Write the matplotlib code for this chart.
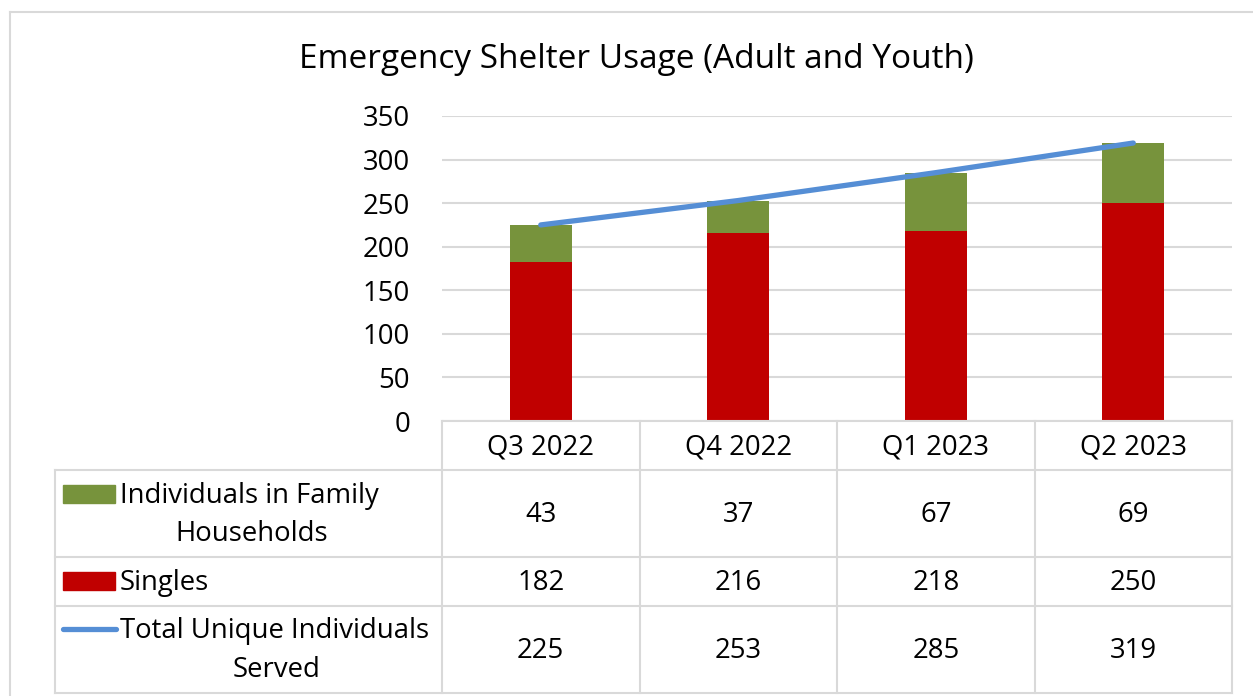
import matplotlib
matplotlib.use("Agg")
import matplotlib.pyplot as plt
import matplotlib.transforms as mtransforms
from matplotlib.lines import Line2D
from matplotlib.patches import Rectangle

categories = ["Q3 2022", "Q4 2022", "Q1 2023", "Q2 2023"]
family = [43, 37, 67, 69]
singles = [182, 216, 218, 250]
total = [225, 253, 285, 319]
yticks = [0, 50, 100, 150, 200, 250, 300, 350]
title = "Emergency Shelter Usage (Adult and Youth)"

GREEN = "#77933C"
RED = "#C00000"
BLUE = "#558ED5"
GRID = "#D9D9D9"
FONT = "Open Sans"
FS = 19.8

W, H = 1253, 696
fig = plt.figure(figsize=(W / 100, H / 100), dpi=100)
plt.rcParams["font.family"] = [FONT, "DejaVu Sans"]


def fx(px):
    return px / W


def fy(py):
    return 1 - py / H


L, R, T, B = 442, 1232, 116, 421
ax = fig.add_axes([fx(L), fy(B), fx(R) - fx(L), fy(T) - fy(B)])
x = list(range(len(categories)))
bw = 0.314
ax.bar(x, singles, bw, color=RED, zorder=2)
ax.bar(x, family, bw, bottom=singles, color=GREEN, zorder=2)
ax.plot(x, total, color=BLUE, lw=3.8, solid_capstyle="round", zorder=3)
ax.set_xlim(-0.5, len(categories) - 0.5)
ax.set_ylim(0, 350)
ax.set_yticks(yticks)
ax.yaxis.grid(True, color=GRID, lw=1.5, zorder=0)
ax.set_axisbelow(True)
for s in ax.spines.values():
    s.set_visible(False)
ax.tick_params(axis="y", length=0, pad=23, labelsize=FS)
ax.set_xticks([])
for lab in ax.get_yticklabels():
    lab.set_fontfamily(FONT)

# Title
fig.text(fx(636), fy(60), title, ha="center", va="center", fontsize=24, family=FONT)

# Outer frame
fig.add_artist(Line2D([fx(10), fx(W + 5)], [fy(12), fy(12)], color=GRID, lw=1.5))
fig.add_artist(Line2D([fx(10), fx(10)], [fy(12), fy(H + 5)], color=GRID, lw=1.5))

# Data table
trans = mtransforms.blended_transform_factory(ax.transData, fig.transFigure)
rows_y = [421, 470, 557, 606, 693]
TL = 55
for i, yy in enumerate(rows_y):
    x0 = L if i == 0 else TL
    fig.add_artist(Line2D([fx(x0), fx(R)], [fy(yy), fy(yy)], color=GRID, lw=1.5))
fig.add_artist(Line2D([fx(TL), fx(TL)], [fy(470), fy(693)], color=GRID, lw=1.5))
for b in [i - 0.5 for i in range(len(categories) + 1)]:
    fig.add_artist(Line2D([b, b], [fy(421), fy(693)], color=GRID, lw=1.5,
                          transform=trans))

D = 2
hdr_y = (421 + 470) / 2 + D
r1 = (470 + 557) / 2 + D
r2 = (557 + 606) / 2 + D
r3 = (606 + 693) / 2 + D
for i, c in enumerate(categories):
    fig.text(i, fy(hdr_y), c, transform=trans, ha="center", va="center",
             fontsize=FS, family=FONT)
    fig.text(i, fy(r1), str(family[i]), transform=trans, ha="center", va="center",
             fontsize=FS, family=FONT)
    fig.text(i, fy(r2), str(singles[i]), transform=trans, ha="center", va="center",
             fontsize=FS, family=FONT)
    fig.text(i, fy(r3), str(total[i]), transform=trans, ha="center", va="center",
             fontsize=FS, family=FONT)

# Legend keys and labels
fig.add_artist(Rectangle((fx(63), fy(503)), fx(115) - fx(63), fy(485) - fy(503),
                         color=GREEN))
fig.add_artist(Rectangle((fx(63), fy(590)), fx(115) - fx(63), fy(572) - fy(590),
                         color=RED))
fig.add_artist(Line2D([fx(63), fx(116)], [fy(629), fy(629)], color=BLUE, lw=3.8,
                      solid_capstyle="round"))
fig.text(fx(120), fy(494 + D), "Individuals in Family", ha="left", va="center",
         fontsize=FS, family=FONT)
fig.text(fx(252), fy(532 + D), "Households", ha="center", va="center",
         fontsize=FS, family=FONT)
fig.text(fx(120), fy(581 + D), "Singles", ha="left", va="center",
         fontsize=FS, family=FONT)
fig.text(fx(120), fy(629 + D), "Total Unique Individuals", ha="left", va="center",
         fontsize=FS, family=FONT)
fig.text(fx(277), fy(668 + D), "Served", ha="center", va="center",
         fontsize=FS, family=FONT)

fig.savefig("out.png", dpi=100)
